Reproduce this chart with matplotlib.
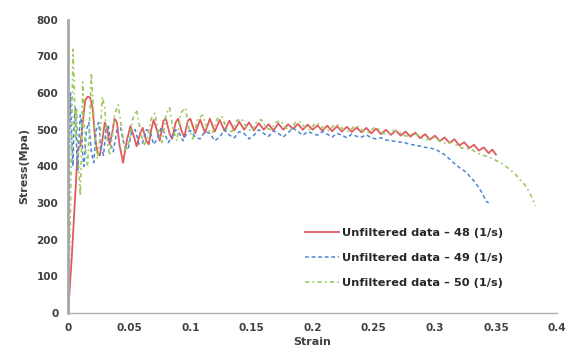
import matplotlib
matplotlib.use("Agg")
import matplotlib.pyplot as plt

# ---- data ----
strain_48 = [0.000, 0.003, 0.006, 0.008, 0.010, 0.012, 0.014, 0.016, 0.018, 0.020,
             0.022, 0.024, 0.026, 0.028, 0.030, 0.032, 0.034, 0.036, 0.038, 0.040,
             0.042, 0.045, 0.048, 0.051, 0.054, 0.056, 0.059, 0.061, 0.064, 0.066,
             0.068, 0.070, 0.073, 0.075, 0.078, 0.080, 0.083, 0.085, 0.088, 0.090,
             0.093, 0.095, 0.098, 0.100, 0.104, 0.108, 0.112, 0.116, 0.120, 0.124,
             0.128, 0.132, 0.136, 0.140, 0.144, 0.148, 0.152, 0.156, 0.160, 0.164,
             0.168, 0.172, 0.176, 0.180, 0.184, 0.188, 0.192, 0.196, 0.200, 0.204,
             0.208, 0.212, 0.216, 0.220, 0.224, 0.228, 0.232, 0.236, 0.240, 0.244,
             0.248, 0.252, 0.256, 0.260, 0.264, 0.268, 0.272, 0.276, 0.280, 0.284,
             0.288, 0.292, 0.296, 0.300, 0.304, 0.308, 0.312, 0.316, 0.320, 0.324,
             0.328, 0.332, 0.336, 0.340, 0.344, 0.347, 0.350]
stress_48 = [0, 150, 330, 450, 455, 520, 580, 590, 588, 560,
             480, 440, 430, 470, 520, 505, 460, 490, 530, 520,
             460, 410, 470, 510, 480, 455, 490, 505, 470, 460,
             500, 527, 495, 470, 525, 530, 490, 475, 520, 530,
             495, 480, 525, 530, 490, 528, 492, 530, 495, 527,
             497, 525, 498, 522, 500, 520, 498, 518, 500, 515,
             498, 517, 500, 515, 502, 516, 500, 514, 500, 512,
             497, 511, 496, 510, 495, 508, 494, 506, 493, 505,
             490, 503, 488, 500, 486, 498, 484, 495, 481, 492,
             477, 488, 473, 484, 469, 479, 464, 474, 457, 466,
             450, 459, 443, 452, 436, 446, 432]

strain_49 = [0.0000, 0.0005, 0.0010, 0.0015, 0.0020, 0.0030, 0.0040, 0.0050, 0.0060, 0.0070,
             0.0080, 0.0090, 0.0100, 0.0110, 0.0120, 0.0130, 0.0150, 0.0170, 0.0190, 0.0210,
             0.0230, 0.0250, 0.0270, 0.0290, 0.0310, 0.0330, 0.0350, 0.0370, 0.0400, 0.0430,
             0.0460, 0.0490, 0.0520, 0.0550, 0.0580, 0.0610, 0.0640, 0.0670, 0.0700, 0.0730,
             0.0760, 0.0790, 0.0820, 0.0850, 0.0880, 0.0910, 0.0940, 0.0970, 0.1000, 0.1040,
             0.1080, 0.1120, 0.1160, 0.1200, 0.1240, 0.1280, 0.1320, 0.1360, 0.1400, 0.1440,
             0.1480, 0.1520, 0.1560, 0.1600, 0.1640, 0.1680, 0.1720, 0.1760, 0.1800, 0.1840,
             0.1880, 0.1920, 0.1960, 0.2000, 0.2040, 0.2080, 0.2120, 0.2160, 0.2200, 0.2240,
             0.2280, 0.2320, 0.2360, 0.2400, 0.2440, 0.2480, 0.2520, 0.2560, 0.2600, 0.2640,
             0.2680, 0.2720, 0.2760, 0.2800, 0.2840, 0.2880, 0.2920, 0.2960, 0.3000, 0.3040,
             0.3080, 0.3120, 0.3160, 0.3200, 0.3240, 0.3280, 0.3320, 0.3360, 0.3390, 0.3420,
             0.3440]
stress_49 = [0, 200, 400, 520, 600, 480, 400, 530, 560, 450,
             390, 480, 540, 520, 430, 400, 500, 520, 440, 410,
             500, 520, 450, 430, 500, 510, 460, 440, 500, 505,
             455, 445, 495, 500, 460, 465, 500, 495, 460, 475,
             505, 490, 465, 480, 500, 490, 470, 490, 498, 480,
             475, 495, 490, 470, 480, 500, 485, 478, 495, 490,
             475, 485, 500, 490, 482, 497, 490, 480, 492, 505,
             495, 485, 495, 490, 485, 495, 488, 480, 490, 485,
             478, 488, 482, 480, 486, 478, 475, 478, 472, 470,
             468, 466, 464, 460, 458, 455, 452, 450, 447, 440,
             432, 420, 408, 397, 388, 375, 360, 342, 325, 305,
             300]

strain_50 = [0.000, 0.001, 0.002, 0.003, 0.004, 0.005, 0.006, 0.007, 0.008, 0.009,
             0.010, 0.011, 0.012, 0.013, 0.014, 0.016, 0.018, 0.019, 0.020, 0.022,
             0.024, 0.026, 0.028, 0.030, 0.032, 0.034, 0.036, 0.038, 0.041, 0.044,
             0.047, 0.050, 0.053, 0.056, 0.059, 0.062, 0.065, 0.068, 0.071, 0.074,
             0.077, 0.080, 0.083, 0.086, 0.089, 0.092, 0.096, 0.099, 0.102, 0.106,
             0.110, 0.114, 0.118, 0.122, 0.126, 0.130, 0.134, 0.138, 0.142, 0.146,
             0.150, 0.154, 0.158, 0.162, 0.166, 0.170, 0.174, 0.178, 0.182, 0.186,
             0.190, 0.194, 0.198, 0.202, 0.206, 0.210, 0.214, 0.218, 0.222, 0.226,
             0.230, 0.234, 0.238, 0.242, 0.246, 0.250, 0.254, 0.258, 0.262, 0.266,
             0.270, 0.274, 0.278, 0.282, 0.286, 0.290, 0.294, 0.298, 0.302, 0.306,
             0.310, 0.314, 0.318, 0.322, 0.326, 0.330, 0.334, 0.338, 0.342, 0.346,
             0.350, 0.354, 0.358, 0.362, 0.366, 0.370, 0.374, 0.377, 0.380, 0.382]
stress_50 = [0, 100, 300, 500, 720, 620, 480, 560, 430, 380,
             320, 450, 630, 520, 450, 400, 560, 655, 600, 480,
             420, 470, 590, 560, 470, 430, 480, 540, 568, 500,
             440, 470, 530, 555, 500, 455, 480, 530, 545, 490,
             465, 540, 560, 500, 470, 545, 560, 500, 475, 530,
             540, 500, 490, 530, 535, 500, 495, 525, 530, 505,
             495, 520, 528, 505, 500, 520, 525, 505, 500, 520,
             522, 505, 500, 518, 515, 500, 498, 515, 512, 498,
             495, 510, 508, 495, 492, 505, 502, 490, 488, 498,
             495, 485, 482, 490, 486, 476, 473, 480, 474, 465,
             462, 466, 458, 450, 448, 446, 438, 432, 428, 423,
             416, 410, 400, 390, 378, 362, 348, 330, 312, 292]

labels = ["Unfiltered data \u2013 48 (1/s)",
          "Unfiltered data \u2013 49 (1/s)",
          "Unfiltered data \u2013 50 (1/s)"]
x_ticks = [0, 0.05, 0.1, 0.15, 0.2, 0.25, 0.3, 0.35, 0.4]
x_tick_labels = ["0", "0.05", "0.1", "0.15", "0.2", "0.25", "0.3", "0.35", "0.4"]
y_ticks = [0, 100, 200, 300, 400, 500, 600, 700, 800]

# ---- figure ----
plt.rcParams['font.family'] = ['DejaVu Sans']
fig = plt.figure(figsize=(5.72, 3.54), dpi=100)
ax = fig.add_axes([0.119, 0.116, 0.855, 0.828])

ax.plot(strain_48, stress_48, color='#e05a5e', lw=1.3, ls='-', label=labels[0])
ax.plot(strain_49, stress_49, color='#4f86d3', lw=1.1, ls=(0, (2.5, 1.8)), label=labels[1])
ax.plot(strain_50, stress_50, color='#9cc860', lw=1.2, ls=(0, (2.5, 2, 1, 2)), label=labels[2])

ax.set_xlim(0, 0.4)
ax.set_ylim(0, 800)
ax.set_xticks(x_ticks)
ax.set_xticklabels(x_tick_labels)
ax.set_yticks(y_ticks)

tick_color = '#404040'
ax.tick_params(axis='both', length=0, labelsize=7.5, colors=tick_color, pad=7)
for lab in ax.get_xticklabels() + ax.get_yticklabels():
    lab.set_fontweight('bold')

for s in ['top', 'right']:
    ax.spines[s].set_visible(False)
ax.spines['left'].set_color('#a8a8a8')
ax.spines['left'].set_linewidth(2.0)
ax.spines['bottom'].set_color('#b0b0b0')
ax.spines['bottom'].set_linewidth(1.0)

ax.set_xlabel("Strain", fontsize=8, fontweight='bold', color=tick_color, labelpad=3)
ax.set_ylabel("Stress(Mpa)", fontsize=8, fontweight='bold', color=tick_color, labelpad=5)

leg = ax.legend(loc='lower left', bbox_to_anchor=(0.485, 0.085), frameon=False,
                fontsize=8.2, handlelength=3.0, handletextpad=0.25, labelspacing=1.3,
                borderaxespad=0, borderpad=0)
for t in leg.get_texts():
    t.set_fontweight('bold')
    t.set_color('#262626')

fig.savefig("out.png", dpi=100)
